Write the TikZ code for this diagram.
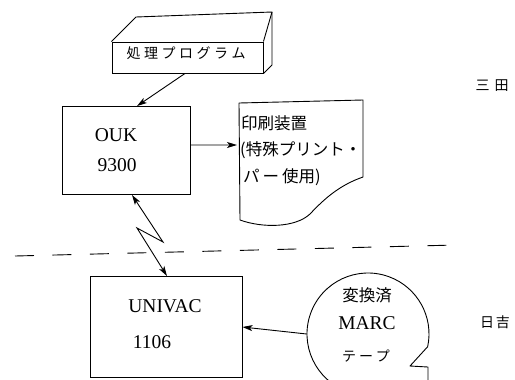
\documentclass[tikz,border=0pt]{standalone}
\usepackage{fontspec}
\setmainfont{Liberation Serif}
\newfontfamily\jp{Noto Sans CJK JP}
\usetikzlibrary{arrows.meta,calc}
\tikzset{
  ln/.style={line width=0.9bp, black},
  boxnode/.style={draw, line width=0.9bp, inner sep=0pt},
  tip/.style={},
  arr/.style={ln, -{Stealth[length=10bp,width=6bp,inset=2.5bp]}},
  arrboth/.style={ln, {Stealth[length=10bp,width=6bp,inset=2.5bp]}-{Stealth[length=10bp,width=6bp,inset=2.5bp]}},
  lat/.style={inner sep=0pt, font=\fontsize{19.5bp}{22bp}\selectfont},
  jpl/.style={inner sep=0pt, font=\jp\fontsize{16.5bp}{20bp}\selectfont},
  jps/.style={inner sep=0pt, font=\jp\fontsize{14bp}{17bp}\selectfont},
}
\begin{document}
\begin{tikzpicture}[x=1bp,y=-1bp]
\useasboundingbox (0,0) rectangle (515,379);
\clip (0,0) rectangle (515,379);

% program card (3D box)
\node[boxnode, minimum width=151bp, minimum height=31bp] (prog) at (187.5,57.5) {};
\coordinate (pbl) at (136,17);
\coordinate (pbr) at (272,12);
\coordinate (pbb) at (272,65);
\draw[ln, line join=round] (prog.north west) -- (pbl) -- (pbr) -- (prog.north east);
\draw[ln, line join=round] (pbr) -- (pbb) -- (prog.south east);
\node[jps] (progt) at (186,53) {処\hspace{3.5bp}理\hspace{3.5bp}プ\hspace{3.5bp}ロ\hspace{3.5bp}グ\hspace{3.5bp}ラ\hspace{3.5bp}ム};

% OUK 9300
\node[boxnode, minimum width=128bp, minimum height=88bp] (ouk) at (126,150.5) {};
\node[lat] (oukt1) at (116,135) {OUK};
\node[lat] (oukt2) at (117,165) {9300};

% printer document
\coordinate (doc) at (239,145);
\draw[ln, line join=round] (239,103) -- (363,100) -- (363,177)
  .. controls (340,185) and (325,198) .. (310,214)
  .. controls (295,228) and (262,228) .. (240,220) -- cycle;
\node[jpl, anchor=west] (pr1) at (241,123) {印刷装置};
\node[jpl, anchor=west] (pr2) at (240,150) {(特殊プリント・};
\node[jpl, anchor=west] (pr3) at (243,177) {パ\hspace{3bp}ー\hspace{3bp}使用)};

% arrows upper
\draw[arr] ([xshift=-2.5bp]prog.south) -- ([xshift=11bp]ouk.north);
\draw[arr] ([yshift=5.5bp]ouk.east) -- ([xshift=-2bp]doc);

% UNIVAC 1106
\node[boxnode, minimum width=152bp, minimum height=101bp] (univac) at (166,327) {};
\node[lat] (unit1) at (165,306) {UNIVAC};
\node[lat] (unit2) at (152,342) {1106};

% communication link (lightning)
\coordinate (z1) at (163,242);
\coordinate (z2) at (137,228);
\draw[arrboth, line join=miter] ([xshift=6bp]ouk.south) -- (z1) -- (z2) -- ([xshift=1bp]univac.north);

% dashed boundary
\coordinate (d1) at (15,256);
\coordinate (d2) at (456,245);
\draw[ln, dash pattern=on 19bp off 18.5bp] (d1) -- (d2);

% magnetic tape
\node[circle, minimum size=122bp, inner sep=0pt] (tape) at (368,334) {};
\coordinate (tc1) at (410,366);
\coordinate (tc2) at (428,367);
\coordinate (tc3) at (428,385);
\draw[ln, line join=round] (tape.center) ++(110:61) arc[start angle=110, end angle=372, radius=61] -- (tc1) -- (tc2) -- (tc3);
\node[jpl] (tp1) at (367,295) {変換済};
\node[lat] (tp2) at (367,323) {MARC};
\node[jps] (tp3) at (366,356) {テ\hspace{3bp}ー\hspace{3bp}プ};
\draw[arr] (tape.west) -- (univac.east);

% place labels
\node[jps] (mita) at (492,86) {三\hspace{5bp}田};
\node[jps] (hiyoshi) at (495,322) {日\hspace{2bp}吉};
\end{tikzpicture}
\end{document}
